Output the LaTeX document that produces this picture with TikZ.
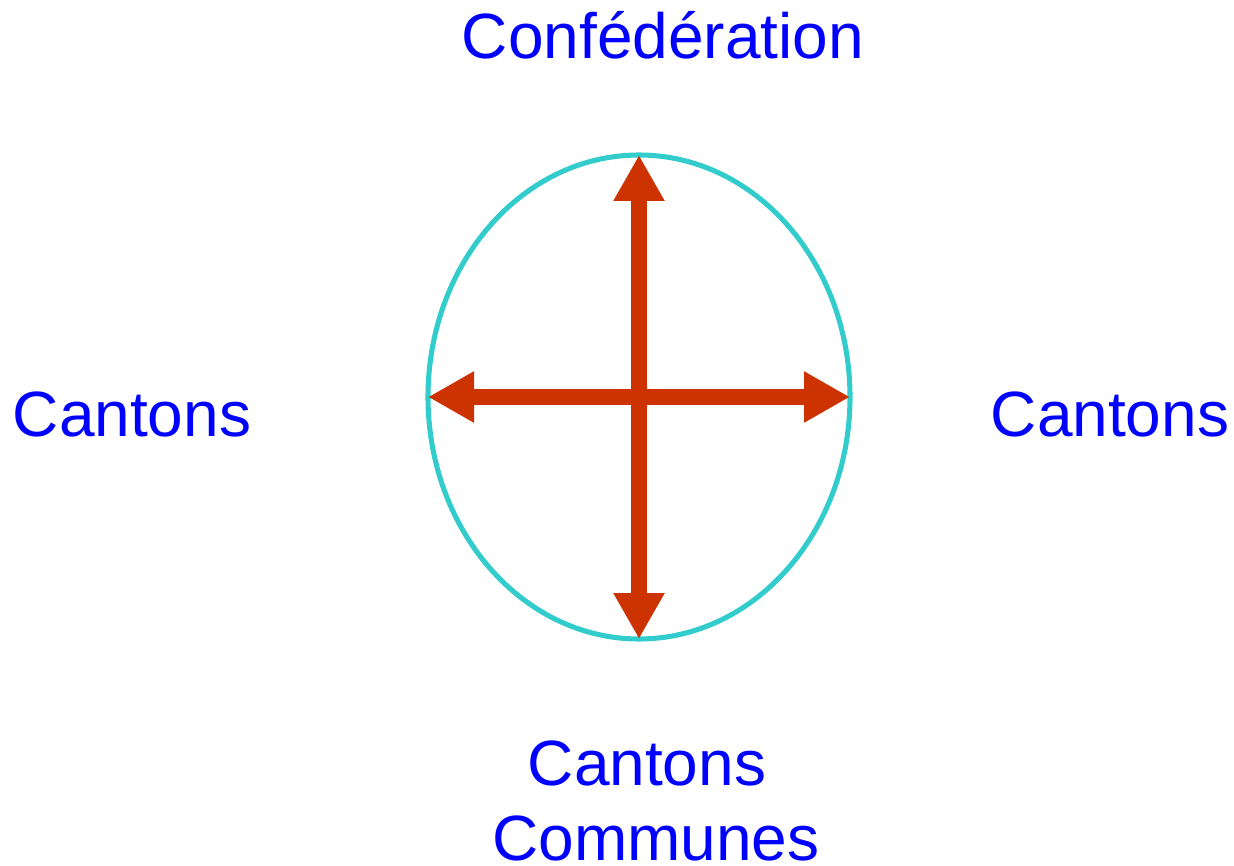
\documentclass[tikz,border=0pt]{standalone}
\usepackage{fontspec}
\setmainfont{Liberation Sans}
\usetikzlibrary{arrows.meta,shapes.geometric}
\definecolor{labelblue}{HTML}{0000FF}
\definecolor{ringcyan}{HTML}{33CCCC}
\definecolor{arrowred}{HTML}{CC3300}

\begin{document}
\begin{tikzpicture}[
  x=0.75pt,
  y=-0.75pt,
  every node/.style={font=\fontsize{48}{58}\selectfont, labelblue},
  ring/.style={ellipse, draw=ringcyan, line width=3.8pt, inner sep=0pt,
    outer sep=0pt, minimum width=316.5pt, minimum height=363pt},
  axisarrow/.style={arrowred, line width=12pt,
    {Triangle[length=34.5pt, width=36pt]}-{Triangle[length=34.5pt, width=36pt]}}
]
  \useasboundingbox (0,0) rectangle (1234,866);

  % ================= the ellipse and its two arrows ======================
  \node[ring] (ring) at (639,397) {};

  \draw[axisarrow] (ring.north) -- (ring.south);
  \draw[axisarrow] (ring.west) -- (ring.east);

  % ================= the labels round it =================================
  \node[anchor=base, inner sep=0pt] (confed) at (663,59) {Confédération};
  \node[anchor=base, inner sep=0pt] (cantonsW) at (132,436) {Cantons};
  \node[anchor=base, inner sep=0pt] (cantonsE) at (1110,436) {Cantons};
  \node[anchor=base, inner sep=0pt] (cantonsS) at (647,785) {Cantons};
  \node[anchor=base, inner sep=0pt] (communes) at (656,860) {Communes};
\end{tikzpicture}
\end{document}
